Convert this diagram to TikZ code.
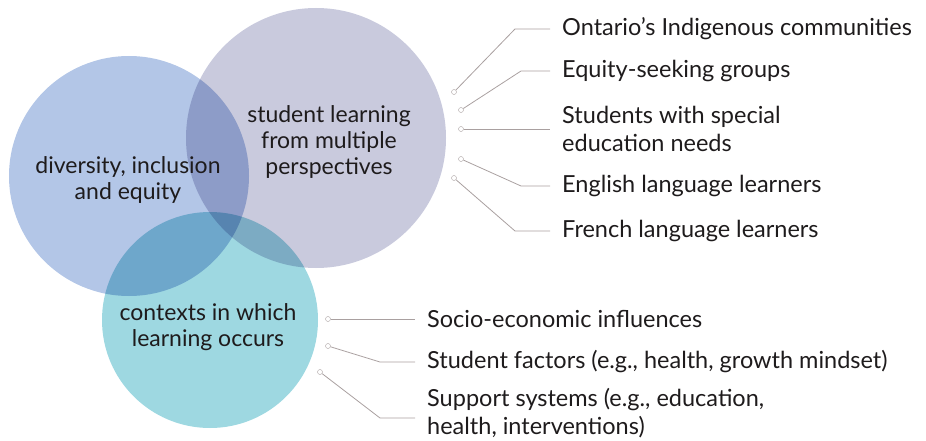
\documentclass[tikz,border=0pt]{standalone}
\usepackage{fontspec}
\setmainfont{Lato}
\definecolor{divblue}{HTML}{B3C6E7}
\definecolor{perslilac}{HTML}{C9CADD}
\definecolor{ctxcyan}{HTML}{9ED8E1}
\definecolor{leadgrey}{HTML}{A9A0A0}
\definecolor{inkblack}{HTML}{1E1B1C}
\tikzset{
  venn/.style={circle, inner sep=0pt, blend mode=multiply},
  vtext/.style={align=center, text=inkblack, font=\fontsize{23}{26}\selectfont},
  item/.style={anchor=west, align=left, inner xsep=12pt, inner ysep=0pt, text=inkblack, font=\fontsize{23.5}{28}\selectfont},
  dot/.style={circle, draw=leadgrey, fill=white, inner sep=0pt, minimum size=5pt},
  lead/.style={draw=leadgrey, line width=0.8pt}
}
\begin{document}
\begin{tikzpicture}[x=1pt,y=1pt]
    \useasboundingbox (0,0) rectangle (926,440);
    % the three circles
    \node[venn, fill=divblue, minimum size=240pt] (div) at (129,264) {};
    \node[venn, fill=perslilac, minimum size=260pt] (pers) at (316,302) {};
    \node[venn, fill=ctxcyan, minimum size=216pt] (ctx) at (210,120) {};
    \node[vtext] (divtext) at (128,260) {diversity, inclusion\\and equity};
    \node[vtext] (perstext) at (329,298) {student learning\\from multiple\\perspectives};
    \node[vtext] (ctxtext) at (208,113) {contexts in which\\learning occurs};

    % perspectives
    \node[item] (ont) at (550,411) {Ontario’s Indigenous communities};
    \node[item] (eqt) at (550,369) {Equity-seeking groups};
    \node[item] (sped) at (550,311) {Students with special\\education needs};
    \node[item] (ell) at (550,254) {English language learners};
    \node[item] (fll) at (550,209) {French language learners};
    \node[dot] (p1) at (454,348) {};
    \node[dot] (p2) at (461,330) {};
    \node[dot] (p3) at (461,311) {};
    \node[dot] (p4) at (461,281) {};
    \node[dot] (p5) at (454,262) {};
    \coordinate (k1) at (515,411);
    \coordinate (k2) at (521,369);
    \coordinate (k4) at (521,254);
    \coordinate (k5) at (515,209);
    \draw[lead] (p1) -- (k1) -- (ont.west);
    \draw[lead] (p2) -- (k2) -- (eqt.west);
    \draw[lead] (p3) -- (sped.west);
    \draw[lead] (p4) -- (k4) -- (ell.west);
    \draw[lead] (p5) -- (k5) -- (fll.west);

    % contexts
    \node[item] (socio) at (415,121) {Socio-economic influences};
    \node[item] (fact) at (415,78) {Student factors (e.g., health, growth mindset)};
    \node[item] (supp) at (415,27) {Support systems (e.g., education,\\health, interventions)};
    \node[dot] (c1) at (328,121) {};
    \node[dot] (c2) at (328,94) {};
    \node[dot] (c3) at (320,68) {};
    \coordinate (m2) at (380,78);
    \coordinate (m3) at (380,22);
    \draw[lead] (c1) -- (socio.west);
    \draw[lead] (c2) -- (m2) -- (fact.west);
    \draw[lead] (c3) -- (m3) -- ([yshift=-5pt]supp.west);
\end{tikzpicture}
\end{document}
